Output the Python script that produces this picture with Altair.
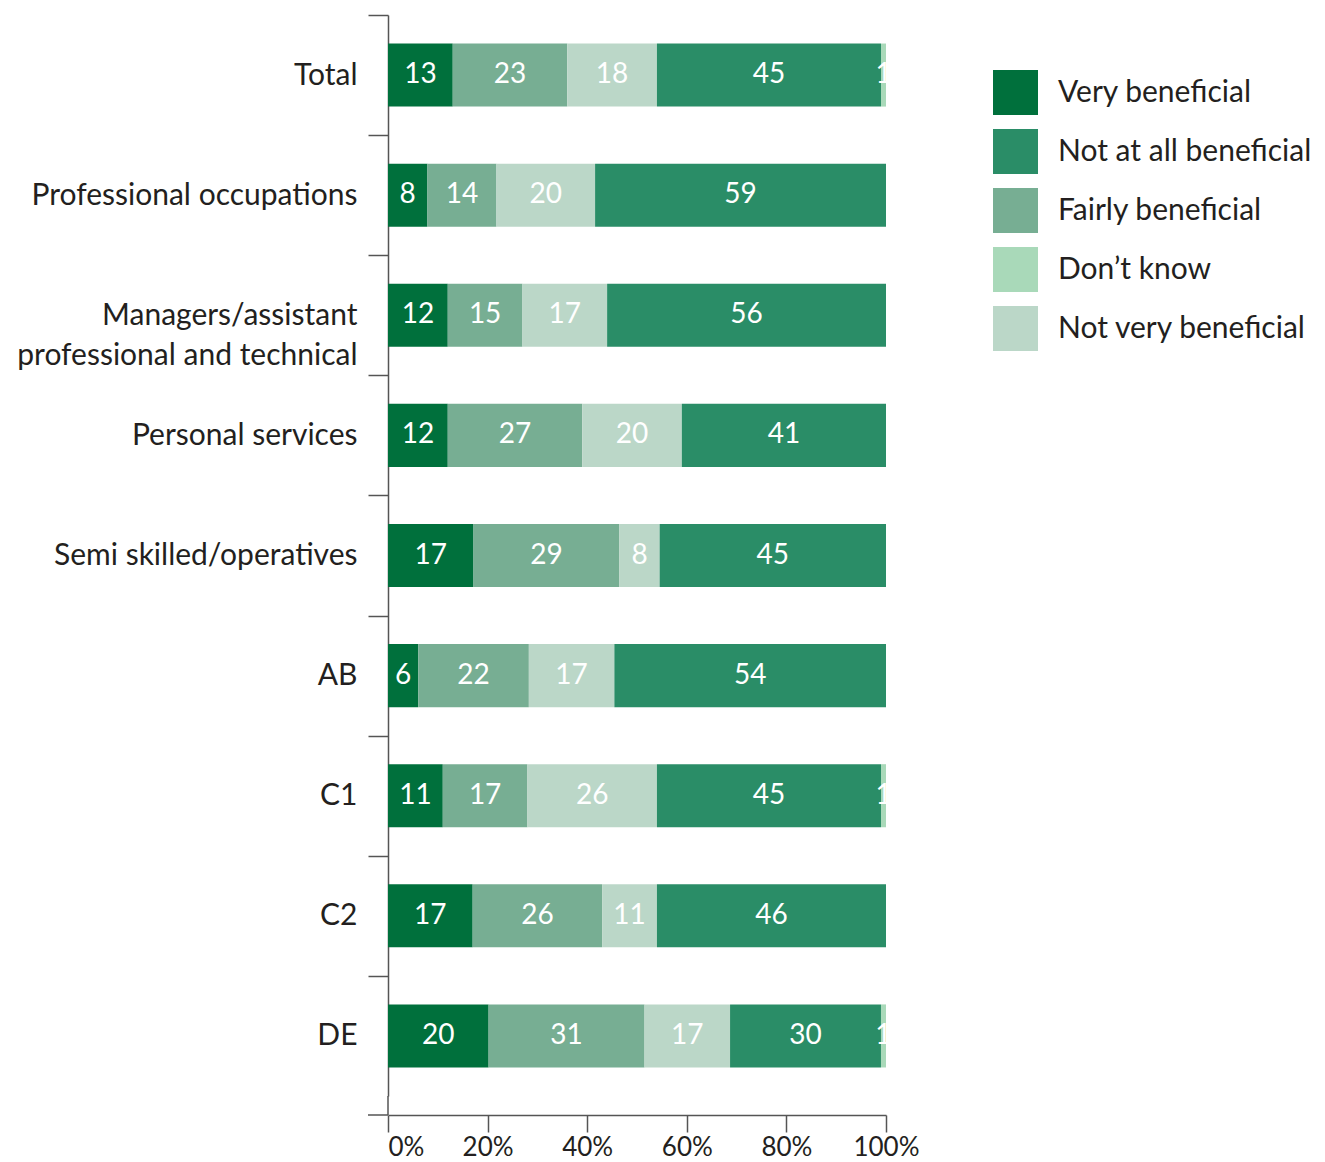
import altair as alt
import pandas as pd

categories = ["Total", "Professional occupations",
              "Managers/assistant professional and technical",
              "Personal services", "Semi skilled/operatives",
              "AB", "C1", "C2", "DE"]
very = [13, 8, 12, 12, 17, 6, 11, 17, 20]
fairly = [23, 14, 15, 27, 29, 22, 17, 26, 31]
not_very = [18, 20, 17, 20, 8, 17, 26, 11, 17]
not_at_all = [45, 59, 56, 41, 45, 54, 45, 46, 30]
dont_know = [1, 0, 0, 0, 0, 0, 1, 0, 1]

stack_order = ["Very beneficial", "Fairly beneficial", "Not very beneficial",
               "Not at all beneficial", "Don\u2019t know"]
legend_order = ["Very beneficial", "Not at all beneficial", "Fairly beneficial",
                "Don\u2019t know", "Not very beneficial"]
legend_colors = ["#00703c", "#2a8d67", "#77ae93", "#a9d9b9", "#bbd7c8"]

series = [very, fairly, not_very, not_at_all, dont_know]
rows = []
for i, cat in enumerate(categories):
    total = sum(s[i] for s in series)
    cum = 0
    for name, s in zip(stack_order, series):
        v = s[i]
        if v == 0:
            continue
        start = cum / total
        cum += v
        end = cum / total
        rows.append({"cat": cat, "resp": name, "value": v,
                     "start": start, "end": end, "mid": (start + end) / 2})
df = pd.DataFrame(rows)

FONT = "Lato"
W, H = 498, 1100
YR = 1081
STEP = YR / 9.0
MGR = "Managers/assistant professional and technical"
AXC = "#555555"
TXT = "#231f20"

yenc = alt.Y("cat:N", sort=categories, title=None,
             scale=alt.Scale(range=[0, YR], paddingInner=0.475, paddingOuter=0.2375),
             axis=alt.Axis(tickSize=20, tickColor=AXC, tickWidth=1.5,
                           tickOffset=-STEP / 2, labelOffset=STEP / 2,
                           domainColor=AXC, domainWidth=1.5,
                           labelFont=FONT, labelFontSize=30, labelColor=TXT,
                           labelPadding=11, labelLineHeight=40, labelLimit=0,
                           labelExpr=("datum.value == '" + MGR + "' ? "
                                      "['Managers/assistant', 'professional and technical'] : datum.label")))

bars = alt.Chart(df).mark_bar().encode(
    x=alt.X("start:Q", title=None, scale=alt.Scale(domain=[0, 1], nice=False),
            axis=alt.Axis(values=[0, 0.2, 0.4, 0.6, 0.8, 1.0], format=".0%",
                          tickSize=17, tickColor=AXC, tickWidth=1.5,
                          domainColor=AXC, domainWidth=1.5, grid=False,
                          labelFont=FONT, labelFontSize=26, labelColor=TXT,
                          labelPadding=2, labelBaseline="top",
                          labelAlign={"condition": {"test": "datum.value == 0", "value": "left"},
                                      "value": "center"})),
    x2="end:Q",
    y=yenc,
    color=alt.Color("resp:N",
                    scale=alt.Scale(domain=legend_order, range=legend_colors),
                    legend=alt.Legend(title=None, orient="none", legendX=605, legendY=55,
                                      symbolType="square", symbolSize=2025,
                                      symbolStrokeWidth=0, symbolOpacity=1,
                                      labelFont=FONT, labelFontSize=30, labelLimit=0,
                                      labelColor=TXT, labelOffset=20,
                                      rowPadding=14, padding=0)),
)

labels = alt.Chart(df).mark_text(font=FONT, fontSize=28, color="white",
                                 align="center", baseline="middle").encode(
    x=alt.X("mid:Q"),
    y=alt.Y("cat:N", sort=categories),
    text=alt.Text("value:Q"),
)

extra = pd.DataFrame({"k": [0]})
xline = alt.Chart(extra).mark_rule(color=AXC, strokeWidth=1.5).encode(
    x=alt.value(-20), x2=alt.value(0), y=alt.value(H))
yline = alt.Chart(extra).mark_rule(color=AXC, strokeWidth=1.5).encode(
    x=alt.value(0), y=alt.value(YR), y2=alt.value(H))

chart = alt.layer(bars, labels, xline, yline).properties(
    width=W, height=H,
    autosize=alt.AutoSizeParams(type="none"),
    padding={"left": 388, "top": 15, "right": 1325 - 388 - W, "bottom": 1162 - 15 - H},
).configure_view(stroke=None)

chart.save("out.html", embed_options={"renderer": "svg", "actions": False})
